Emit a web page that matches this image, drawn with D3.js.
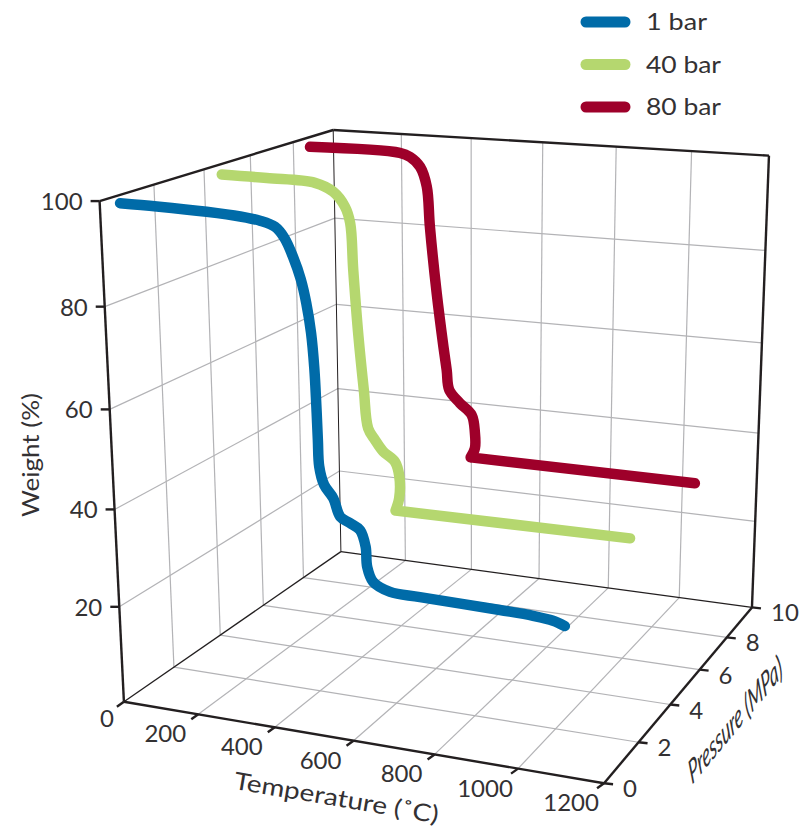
<!DOCTYPE html>
<html>
<head>
<meta charset="utf-8">
<style>
body { margin: 0; background: #fff; }
text { font-family: Lato, sans-serif; font-weight: 400; fill: #333133; }
</style>
</head>
<body>
<svg id="chart" width="801" height="833"></svg>
<script src="https://cdn.jsdelivr.net/npm/d3@7"></script>
<script>
var seriesNames = ["1 bar", "40 bar", "80 bar"];
var seriesColors = ["#006ba8", "#b5d76f", "#9e002a"];
var seriesPressure = [0.1, 4, 8];

var temp1 = [45, 138, 262, 344, 392, 428, 450, 470, 487, 499, 509, 515, 518, 520, 522, 533, 555, 571, 595, 619, 632, 635, 649, 690, 762, 951, 1028, 1074, 1101];
var weight1 = [99.7, 99.6, 99.3, 98.9, 98.4, 97.5, 95.6, 92.2, 88.3, 84, 78.5, 72, 65, 58.4, 53.3, 49.9, 47.5, 44.1, 43.1, 42.0, 38.9, 35.0, 32.2, 30.7, 30.5, 30.2, 30.0, 29.6, 28.9];
var temp40 = [48, 169, 296, 343, 373, 386, 392, 403, 415, 425, 443, 464, 495, 506, 505, 495, 1092];
var weight40 = [99.2, 99.1, 98.8, 97.3, 94.5, 91.3, 82.0, 68.5, 57.6, 49.7, 47.4, 45.2, 43.3, 40.3, 35.7, 33.0, 33.4];
var temp80 = [48, 302, 330, 358, 376, 384, 402, 420, 429, 436, 466, 499, 508, 508, 496, 1104];
var weight80 = [99.2, 99.1, 98.4, 96.4, 92.3, 83.7, 69.3, 57.7, 52.5, 48.1, 45.4, 43.0, 39.0, 35.6, 33.4, 33.4];

var tempTicks = [0, 200, 400, 600, 800, 1000, 1200];
var pressTicks = [0, 2, 4, 6, 8, 10];
var weightTicks = [0, 20, 40, 60, 80, 100];

var x = d3.scaleLinear().domain([0, 1200]).range([0, 1]);
var y = d3.scaleLinear().domain([0, 10]).range([0, 1]);
var z = d3.scaleLinear().domain([0, 100]).range([0, 1]);

// where the corners of the unit box land on the page
var boxCorners = [
    [0, 0, 0, 123.3, 701.7], [1, 0, 0, 604, 783.3], [1, 1, 0, 751.7, 607.3], [0, 1, 0, 341.7, 551.7],
    [0, 0, 1, 100.3, 201], [0, 1, 1, 332.3, 130], [1, 1, 1, 769.3, 155.7]
];

// least squares fit of a perspective camera to the corners
function fitCamera(pts) {
    var A = [], b = [];
    pts.forEach(function (p) {
        A.push([p[0], p[1], p[2], 1, 0, 0, 0, 0, -p[3] * p[0], -p[3] * p[1], -p[3] * p[2]]);
        b.push(p[3]);
        A.push([0, 0, 0, 0, p[0], p[1], p[2], 1, -p[4] * p[0], -p[4] * p[1], -p[4] * p[2]]);
        b.push(p[4]);
    });
    var n = 11, N = [];
    for (var i = 0; i < n; i++) {
        N.push([]);
        for (var j = 0; j <= n; j++) {
            var s = 0;
            for (var k = 0; k < A.length; k++) s += A[k][i] * (j < n ? A[k][j] : b[k]);
            N[i].push(s);
        }
    }
    for (i = 0; i < n; i++) {
        var m = i;
        for (k = i + 1; k < n; k++) if (Math.abs(N[k][i]) > Math.abs(N[m][i])) m = k;
        var t = N[i]; N[i] = N[m]; N[m] = t;
        for (k = 0; k < n; k++) {
            if (k != i) {
                var f = N[k][i] / N[i][i];
                for (j = i; j <= n; j++) N[k][j] -= f * N[i][j];
            }
        }
    }
    return N.map(function (r, i) { return r[n] / r[i]; });
}
var cam = fitCamera(boxCorners);

function project(temp, press, weight) {
    var a = x(temp), b = y(press), c = z(weight);
    var w = cam[8] * a + cam[9] * b + cam[10] * c + 1;
    return [(cam[0] * a + cam[1] * b + cam[2] * c + cam[3]) / w,
            (cam[4] * a + cam[5] * b + cam[6] * c + cam[7]) / w];
}

var svg = d3.select("#chart");
var straight = d3.line();
var smooth = d3.line().curve(d3.curveCatmullRom.alpha(0.5));

function seg(g, a, b, color, width) {
    g.append("path")
        .attr("d", straight([project.apply(null, a), project.apply(null, b)]))
        .attr("fill", "none")
        .attr("stroke", color)
        .attr("stroke-width", width);
}

// grid on the floor and the two walls
var grid = svg.append("g");
var gridColor = "#b3b3b6";
weightTicks.slice(1, 5).forEach(function (w) {
    seg(grid, [0, 0, w], [0, 10, w], gridColor, 1.2);
    seg(grid, [0, 10, w], [1200, 10, w], gridColor, 1.2);
});
tempTicks.slice(1, 6).forEach(function (t) {
    seg(grid, [t, 10, 0], [t, 10, 100], gridColor, 1.2);
    seg(grid, [t, 0, 0], [t, 10, 0], gridColor, 1.2);
});
pressTicks.slice(1, 5).forEach(function (p) {
    seg(grid, [0, p, 0], [0, p, 100], gridColor, 1.2);
    seg(grid, [0, p, 0], [1200, p, 0], gridColor, 1.2);
});

// box edges
var axes = svg.append("g");
var ink = "#231f20";
seg(axes, [0, 0, 0], [0, 10, 0], ink, 1.3);
seg(axes, [0, 10, 0], [1200, 10, 0], ink, 1.3);
seg(axes, [0, 10, 0], [0, 10, 100], ink, 1);
seg(axes, [0, 0, 0], [1200, 0, 0], ink, 2.4);
seg(axes, [1200, 0, 0], [1200, 10, 0], ink, 2.4);
seg(axes, [1200, 10, 0], [1200, 10, 100], ink, 2.4);
seg(axes, [0, 0, 0], [0, 0, 100], ink, 2.4);
seg(axes, [0, 0, 100], [0, 10, 100], ink, 2.4);
seg(axes, [0, 10, 100], [1200, 10, 100], ink, 2.4);

// ticks and tick labels
function tick(p, dx, dy) {
    axes.append("path")
        .attr("d", straight([p, [p[0] + dx, p[1] + dy]]))
        .attr("stroke", ink)
        .attr("stroke-width", 2.4);
}
var labels = svg.append("g").attr("font-size", 24);
weightTicks.forEach(function (w) {
    var p = project(0, 0, w);
    if (w > 0) tick(p, -9, 0);
    labels.append("text")
        .attr("x", w > 0 ? p[0] - 17 : p[0] - 10)
        .attr("y", w > 0 ? p[1] + 9 : p[1] + 25)
        .attr("text-anchor", "end")
        .text(w);
});
tempTicks.forEach(function (t) {
    var p = project(t, 0, 0);
    tick(p, -7, 5);
    if (t > 0) {
        labels.append("text")
            .attr("x", p[0] - 33)
            .attr("y", p[1] + 28)
            .attr("text-anchor", "middle")
            .text(t);
    }
});
pressTicks.forEach(function (v) {
    var p = project(1200, v, 0);
    tick(p, 9, 1);
    labels.append("text")
        .attr("x", p[0] + 19)
        .attr("y", p[1] + 14)
        .text(v);
});

// axis titles
labels.append("text")
    .attr("text-anchor", "middle")
    .attr("transform", "translate(335,806) rotate(9.6)")
    .attr("textLength", 207)
    .attr("lengthAdjust", "spacingAndGlyphs")
    .text("Temperature (˚C)");
labels.append("text")
    .attr("text-anchor", "middle")
    .attr("transform", "translate(39,455) rotate(-90)")
    .attr("textLength", 124)
    .attr("lengthAdjust", "spacingAndGlyphs")
    .text("Weight (%)");
labels.append("text")
    .attr("font-style", "italic")
    .attr("font-size", 22)
    .attr("transform", "matrix(0.68,-0.82,0.354,1.31,692,785)")
    .text("Pressure (MPa)");

// curves, back to front. the 40 and 80 bar tails run straight from a sharp corner
var temps = [temp1, temp40, temp80];
var weights = [weight1, weight40, weight80];
[2, 1, 0].forEach(function (i) {
    var pts = temps[i].map(function (t, j) {
        return project(t, seriesPressure[i], weights[i][j]);
    });
    var d = i == 0 ? smooth(pts) : smooth(pts.slice(0, -1)) + straight(pts.slice(-2));
    svg.append("path")
        .attr("d", d)
        .attr("fill", "none")
        .attr("stroke", seriesColors[i])
        .attr("stroke-width", 10.5)
        .attr("stroke-linecap", "round")
        .attr("stroke-linejoin", "round");
});

// legend
var legendY = d3.scalePoint().domain(seriesNames).range([22, 107]);
var legendWidths = [61, 75, 75];
var legend = svg.append("g");
seriesNames.forEach(function (name, i) {
    legend.append("line")
        .attr("x1", 586).attr("x2", 625)
        .attr("y1", legendY(name)).attr("y2", legendY(name))
        .attr("stroke", seriesColors[i])
        .attr("stroke-width", 11)
        .attr("stroke-linecap", "round");
    legend.append("text")
        .attr("x", 646)
        .attr("y", legendY(name) + 8)
        .attr("font-size", 24)
        .attr("textLength", legendWidths[i])
        .attr("lengthAdjust", "spacingAndGlyphs")
        .text(name);
});
</script>
</body>
</html>
